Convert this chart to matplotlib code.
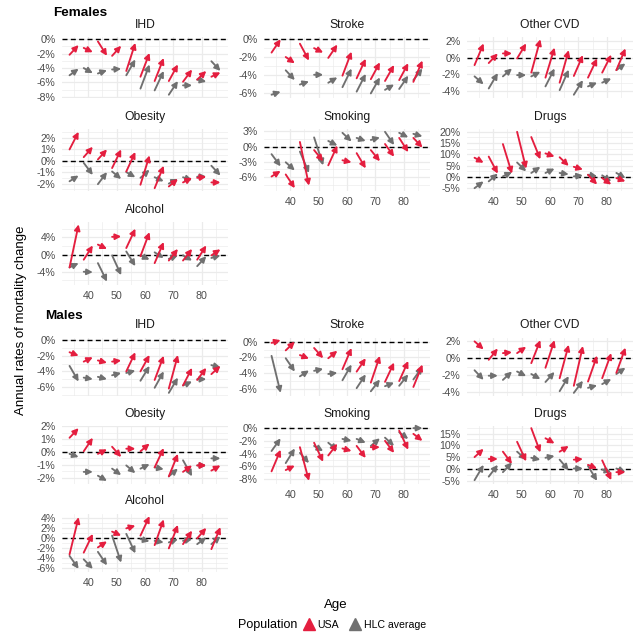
import matplotlib.pyplot as plt
from matplotlib.lines import Line2D

plt.rcParams["font.family"] = ["Liberation Sans", "DejaVu Sans"]

# Age groups (x) and annual rates of mortality change (%), period 1 -> period 2
AGES = [35, 40, 45, 50, 55, 60, 65, 70, 75, 80, 85]
X_TICKS = [40, 50, 60, 70, 80]
POPULATIONS = ["USA", "HLC average"]

# ---- Females ----
f_ihd_usa_from = [-2.15, -1.2, -0.3, -2.3, -4.4, -5.2, -5.8, -5.8, -5.9, -5.6, -5.2]
f_ihd_usa_to = [-0.8, -1.8, -2.3, -0.9, -0.5, -1.9, -2.6, -3.5, -4.2, -4.4, -4.6]
f_ihd_hlc_from = [-5.0, -4.0, -4.75, -4.2, -5.0, -6.85, -7.1, -7.7, -6.4, -5.6, -3.05]
f_ihd_hlc_to = [-4.1, -4.7, -4.3, -4.1, -2.8, -3.5, -4.4, -5.8, -6.4, -5.9, -4.4]

f_stroke_usa_from = [-1.5, -2.0, -0.5, -1.0, -2.1, -4.1, -4.4, -4.5, -4.7, -4.6, -4.8]
f_stroke_usa_to = [0.0, -2.7, -2.4, -1.5, -0.6, -1.4, -2.2, -2.6, -2.9, -2.7, -2.4]
f_stroke_hlc_from = [-6.25, -3.5, -5.1, -4.0, -4.9, -5.4, -5.9, -6.1, -5.7, -5.6, -4.6]
f_stroke_hlc_to = [-5.9, -4.6, -4.75, -4.0, -4.3, -3.3, -3.9, -4.3, -5.1, -4.1, -3.3]

f_cvd_usa_from = [-0.9, -0.65, 0.5, -0.1, -1.8, -2.4, -3.0, -2.2, -2.4, -1.8, -1.5]
f_cvd_usa_to = [1.7, 0.5, 0.5, 1.7, 2.2, 1.2, 0.9, 0.3, -0.1, 0.35, 1.1]
f_cvd_hlc_from = [-2.25, -3.7, -2.25, -2.1, -2.25, -3.45, -3.9, -4.45, -3.45, -3.0, -1.5]
f_cvd_hlc_to = [-3.2, -1.85, -1.3, -2.1, -1.7, -1.3, -1.45, -2.7, -3.0, -2.5, -0.7]

f_obesity_usa_from = [0.97, 0.3, 0.1, -0.65, -0.95, -2.1, -2.4, -2.25, -1.9, -1.5, -1.9]
f_obesity_usa_to = [2.5, 1.2, 0.97, 0.97, 0.75, 0.45, -0.45, -1.6, -1.5, -1.4, -1.9]
f_obesity_hlc_from = [-1.8, -0.2, -2.05, -0.95, -1.0, -1.5, -1.45, -2.0, -1.45, -1.4, -0.45]
f_obesity_hlc_to = [-1.3, -1.25, -1.0, -1.6, -1.45, -0.8, -1.8, -1.6, -1.7, -1.4, -1.3]

f_smoking_usa_from = [-5.9, -5.5, 0.9, -0.7, -3.7, -2.7, -1.3, -0.7, 0.5, 1.7, 1.7]
f_smoking_usa_to = [-4.8, -8.2, -7.7, -2.9, 0.2, -3.1, -4.3, -2.9, -2.0, -1.1, -0.2]
f_smoking_hlc_from = [-1.5, -3.1, -1.0, 1.8, 1.1, 2.7, 1.7, 1.3, 2.9, 2.7, 2.5]
f_smoking_hlc_to = [-3.9, -4.7, -5.2, -3.7, 0.2, 1.0, 1.1, 1.8, 0.3, 1.8, 2.0]

f_drugs_usa_from = [8.5, 9.0, 14.5, 19.9, 17.6, 10.4, 8.7, 4.5, 1.0, -0.45, -0.45]
f_drugs_usa_to = [6.3, 1.5, 1.5, 3.7, 7.8, 9.0, 4.9, 3.3, -3.3, -3.3, -1.9]
f_drugs_hlc_from = [-4.9, -1.9, 0.3, 6.4, 1.8, 1.8, 1.8, 0.3, 1.0, 0.75, 1.8]
f_drugs_hlc_to = [-1.9, 1.5, 2.2, 2.5, 4.5, 3.7, 1.2, 0.75, 0.3, -1.9, -0.45]

f_alcohol_usa_from = [-3.0, -1.2, 2.3, 4.1, 1.5, -0.4, -2.0, -1.4, -1.4, -1.2, -0.2]
f_alcohol_usa_to = [7.0, 2.1, 1.3, 4.2, 6.0, 5.2, 2.9, 1.3, 1.3, 2.1, 1.2]
f_alcohol_hlc_from = [-3.0, -4.0, -2.0, -0.2, 0.7, -0.2, 0.5, -1.0, -0.2, -2.7, -0.8]
f_alcohol_hlc_to = [-2.0, -4.1, -6.3, -4.8, -2.7, -1.2, -0.8, -0.2, -1.4, -0.4, -0.2]

# ---- Males ----
m_ihd_usa_from = [-1.55, -2.75, -2.6, -2.75, -4.0, -4.0, -5.1, -6.2, -5.8, -5.1, -4.35]
m_ihd_usa_to = [-2.0, -2.2, -2.9, -2.6, -1.55, -1.9, -2.0, -1.9, -3.55, -3.55, -3.3]
m_ihd_hlc_from = [-3.3, -4.8, -4.7, -4.5, -4.2, -5.2, -6.1, -6.75, -5.8, -5.0, -3.2]
m_ihd_hlc_to = [-5.3, -5.0, -5.0, -4.2, -3.9, -3.3, -4.0, -4.8, -5.3, -5.0, -3.5]

m_stroke_usa_from = [-0.15, -1.1, -1.7, -0.8, -2.1, -3.5, -3.8, -5.2, -5.1, -5.0, -5.75]
m_stroke_usa_to = [0.2, 0.0, -2.15, -2.1, -1.15, -0.8, -2.1, -1.8, -2.65, -2.45, -2.9]
m_stroke_hlc_from = [-1.8, -2.1, -4.4, -3.7, -4.1, -4.9, -5.9, -6.3, -5.65, -5.6, -4.8]
m_stroke_hlc_to = [-6.5, -3.8, -3.65, -3.45, -3.95, -2.9, -4.15, -4.8, -5.2, -4.15, -3.2]

m_cvd_usa_from = [2.0, -0.2, 0.6, 0.6, -0.6, -1.15, -2.4, -3.3, -2.8, -2.4, -1.75]
m_cvd_usa_to = [1.05, 1.15, 0.7, 1.35, 2.15, 2.15, 1.6, 1.45, 0.3, 0.6, 1.25]
m_cvd_hlc_from = [-1.45, -2.1, -2.6, -1.6, -1.9, -2.85, -3.95, -4.15, -3.55, -3.1, -1.9]
m_cvd_hlc_to = [-2.6, -2.1, -1.6, -2.15, -2.5, -1.65, -2.15, -2.7, -3.25, -2.5, -1.15]

m_obesity_usa_from = [1.1, 0.05, -0.15, 0.4, 0.25, 0.05, -1.2, -1.9, -1.55, -1.05, -1.45]
m_obesity_usa_to = [1.85, 1.1, 0.2, -0.4, 0.25, 0.65, 0.3, -0.15, -1.05, -1.05, -1.05]
m_obesity_hlc_from = [-0.15, -1.55, -1.85, -1.3, -1.05, -1.3, -1.2, -1.9, -0.65, -1.05, -0.5]
m_obesity_hlc_to = [-0.4, -1.55, -2.25, -1.8, -1.65, -0.95, -1.35, -1.3, -1.9, -1.05, -0.5]

m_smoking_usa_from = [-6.8, -6.6, -3.0, -2.3, -4.3, -3.2, -2.8, -3.0, -2.0, -0.4, -0.9]
m_smoking_usa_to = [-3.4, -5.9, -8.3, -5.3, -2.45, -3.6, -4.7, -3.0, -3.9, -3.4, -2.0]
m_smoking_hlc_from = [-3.6, -5.5, -3.9, -2.8, -2.3, -1.7, -1.7, -2.8, -1.5, -0.65, 0.0]
m_smoking_hlc_to = [-1.6, -3.2, -5.5, -3.6, -3.5, -2.0, -2.3, -1.6, -2.8, -1.7, 0.0]

m_drugs_usa_from = [5.0, 4.2, 7.3, 11.5, 17.3, 13.0, 7.3, 3.9, 1.7, 3.6, -1.4]
m_drugs_usa_to = [8.5, 4.2, 2.1, 3.2, 7.0, 10.8, 9.7, 4.2, 0.15, -4.8, -1.4]
m_drugs_hlc_from = [-4.8, -3.3, -1.4, 7.3, 4.7, 4.7, 3.9, 0.15, 1.2, -0.3, 0.15]
m_drugs_hlc_to = [1.7, 1.7, 2.7, 3.9, 3.9, 5.5, -0.6, 0.15, -5.1, -1.4, -1.4]

m_alcohol_usa_from = [-3.2, -2.85, -1.8, 1.35, 2.0, 0.55, -1.35, -2.0, -1.15, 0.0, -2.15]
m_alcohol_usa_to = [4.25, 0.9, -0.6, 0.55, 2.55, 4.45, 3.8, 2.7, 1.55, 2.1, 2.25]
m_alcohol_hlc_from = [-3.5, -4.2, -2.7, 0.55, 0.9, -0.15, -0.5, -0.8, -0.5, -1.15, -1.15]
m_alcohol_hlc_to = [-6.1, -6.1, -5.4, -4.85, -3.0, -0.6, -0.8, -0.15, -0.15, 0.2, 0.4]

# y-axis breaks per panel
F_TICKS = {
    "IHD": [0, -2, -4, -6, -8],
    "Stroke": [0, -2, -4, -6],
    "Other CVD": [2, 0, -2, -4],
    "Obesity": [2, 1, 0, -1, -2],
    "Smoking": [3, 0, -3, -6],
    "Drugs": [20, 15, 10, 5, 0, -5],
    "Alcohol": [4, 0, -4],
}
M_TICKS = {
    "IHD": [0, -2, -4, -6],
    "Stroke": [0, -2, -4, -6],
    "Other CVD": [2, 0, -2, -4],
    "Obesity": [2, 1, 0, -1, -2],
    "Smoking": [0, -2, -4, -6, -8],
    "Drugs": [15, 10, 5, 0, -5],
    "Alcohol": [4, 2, 0, -2, -4, -6],
}

FEMALES = {
    "IHD": ((f_ihd_usa_from, f_ihd_usa_to), (f_ihd_hlc_from, f_ihd_hlc_to)),
    "Stroke": ((f_stroke_usa_from, f_stroke_usa_to), (f_stroke_hlc_from, f_stroke_hlc_to)),
    "Other CVD": ((f_cvd_usa_from, f_cvd_usa_to), (f_cvd_hlc_from, f_cvd_hlc_to)),
    "Obesity": ((f_obesity_usa_from, f_obesity_usa_to), (f_obesity_hlc_from, f_obesity_hlc_to)),
    "Smoking": ((f_smoking_usa_from, f_smoking_usa_to), (f_smoking_hlc_from, f_smoking_hlc_to)),
    "Drugs": ((f_drugs_usa_from, f_drugs_usa_to), (f_drugs_hlc_from, f_drugs_hlc_to)),
    "Alcohol": ((f_alcohol_usa_from, f_alcohol_usa_to), (f_alcohol_hlc_from, f_alcohol_hlc_to)),
}
MALES = {
    "IHD": ((m_ihd_usa_from, m_ihd_usa_to), (m_ihd_hlc_from, m_ihd_hlc_to)),
    "Stroke": ((m_stroke_usa_from, m_stroke_usa_to), (m_stroke_hlc_from, m_stroke_hlc_to)),
    "Other CVD": ((m_cvd_usa_from, m_cvd_usa_to), (m_cvd_hlc_from, m_cvd_hlc_to)),
    "Obesity": ((m_obesity_usa_from, m_obesity_usa_to), (m_obesity_hlc_from, m_obesity_hlc_to)),
    "Smoking": ((m_smoking_usa_from, m_smoking_usa_to), (m_smoking_hlc_from, m_smoking_hlc_to)),
    "Drugs": ((m_drugs_usa_from, m_drugs_usa_to), (m_drugs_hlc_from, m_drugs_hlc_to)),
    "Alcohol": ((m_alcohol_usa_from, m_alcohol_usa_to), (m_alcohol_hlc_from, m_alcohol_hlc_to)),
}

LAYOUT = [["IHD", "Stroke", "Other CVD"], ["Obesity", "Smoking", "Drugs"], ["Alcohol"]]

RED = "#E41E3F"
GREY = "#707070"
GRID = "#EBEBEB"
TEXT = "#4D4D4D"
HALF = 1.6  # half width of each arrow along the age axis

W, H = 640, 633
COLS = [(62, 228), (264, 430), (467, 633)]
F_ROWS = [(36.5, 97.5), (129, 191), (221.5, 284.5)]
M_ROWS = [(337.5, 395.5), (425.5, 483.5), (513.5, 571.5)]


def _fig_box(x0, x1, y0, y1):
    return [x0 / W, 1 - y1 / H, (x1 - x0) / W, (y1 - y0) / H]


def _minor_between(ticks, lo, hi):
    t = sorted(ticks)
    step = t[1] - t[0]
    out = []
    v = t[0] - step / 2
    while v <= t[-1] + step / 2 + 1e-9:
        if lo <= v <= hi and v not in t:
            out.append(v)
        v += step
    return out


def draw_panel(ax, series, yticks, show_x):
    (usa_from, usa_to), (hlc_from, hlc_to) = series
    vals = usa_from + usa_to + hlc_from + hlc_to + [0]
    lo, hi = min(vals), max(vals)
    pad = 0.05 * (hi - lo)
    ax.set_ylim(lo - pad, hi + pad)
    x_lo, x_hi = AGES[0] - HALF, AGES[-1] + HALF
    xpad = 0.05 * (x_hi - x_lo)
    ax.set_xlim(x_lo - xpad, x_hi + xpad)

    ax.set_xticks(X_TICKS)
    ax.set_xticks([t + 5 for t in [30] + X_TICKS], minor=True)
    ax.set_yticks(yticks)
    ax.set_yticks(_minor_between(yticks, lo - pad, hi + pad), minor=True)
    ax.set_yticklabels([f"{t:g}%" for t in yticks])
    if not show_x:
        ax.set_xticklabels([])
    ax.grid(which="major", color=GRID, lw=0.9)
    ax.grid(which="minor", color=GRID, lw=0.45)
    ax.set_axisbelow(True)
    for s in ax.spines.values():
        s.set_visible(False)
    ax.tick_params(which="both", length=0, labelsize=7.7, labelcolor=TEXT, pad=4.5)
    ax.axhline(0, color="black", lw=1.0, ls=(0, (3.6, 2.4)), zorder=1)

    for (y_from, y_to), color in (((hlc_from, hlc_to), GREY), ((usa_from, usa_to), RED)):
        for age, y0, y1 in zip(AGES, y_from, y_to):
            ax.annotate(
                "",
                xy=(age + HALF, y1),
                xytext=(age - HALF, y0),
                arrowprops=dict(arrowstyle="-|>", color=color, lw=1.35,
                                shrinkA=0, shrinkB=0, mutation_scale=8.5),
                zorder=3,
            )


def draw_block(fig, data, ticks, rows):
    for r, names in enumerate(LAYOUT):
        y0, y1 = rows[r]
        for c, name in enumerate(names):
            x0, x1 = COLS[c]
            ax = fig.add_axes(_fig_box(x0, x1, y0, y1))
            show_x = r == 2 or (r == 1 and c > 0)
            draw_panel(ax, data[name], ticks[name], show_x)
            fig.text((x0 + x1) / 2 / W, 1 - (y0 - 12) / H, name,
                     ha="center", va="center", fontsize=8.7, color="#1A1A1A")


fig = plt.figure(figsize=(W / 100, H / 100), dpi=100)
draw_block(fig, FEMALES, F_TICKS, F_ROWS)
draw_block(fig, MALES, M_TICKS, M_ROWS)

fig.text(53 / W, 1 - 13 / H, "Females", fontsize=9.7, fontweight="bold", va="center")
fig.text(45 / W, 1 - 316 / H, "Males", fontsize=9.7, fontweight="bold", va="center")
fig.text(21 / W, 1 - 320 / H, "Annual rates of mortality change", rotation=90,
         ha="center", va="center", fontsize=9.5)
fig.text(336 / W, 1 - 605 / H, "Age", ha="center", va="center", fontsize=9.5)

# legend: population title on the left, triangle keys to the right
fig.text(238 / W, 1 - 625 / H, "Population", va="center", fontsize=9.0)
handles = [
    Line2D([], [], marker="^", ls="", color=col, markersize=9, label=lab)
    for col, lab in zip([RED, GREY], POPULATIONS)
]
fig.legend(handles=handles, loc="center left", bbox_to_anchor=(304 / W, 1 - 625 / H),
           ncol=2, frameon=False, fontsize=7.6, handlelength=1.0,
           handletextpad=0.3, columnspacing=1.0, borderpad=0, borderaxespad=0)

fig.savefig("out.png", dpi=100)
